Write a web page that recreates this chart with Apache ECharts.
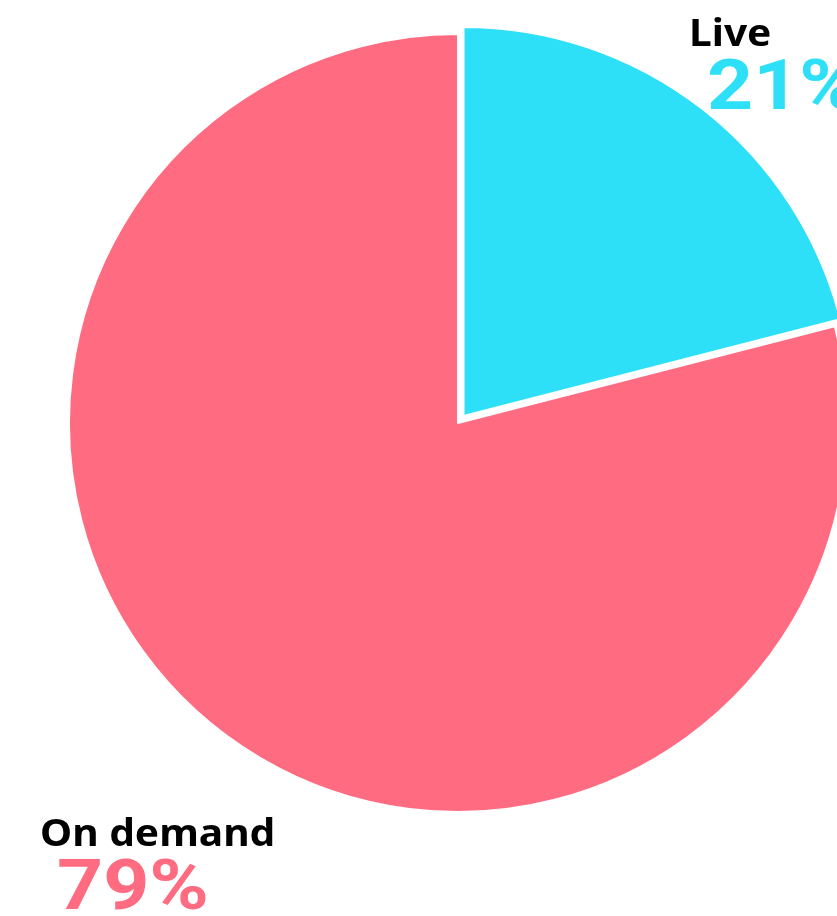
<!DOCTYPE html>
<html>
<head>
<meta charset="utf-8">
<script src="https://cdn.jsdelivr.net/npm/echarts@6/dist/echarts.min.js"></script>
<style>
html,body{margin:0;padding:0;background:#fff;}
#chart{width:837px;height:916px;}
</style>
</head>
<body>
<div id="chart"></div>
<script>
const categories = ['Live', 'On demand'];
const values = [21, 79];
const colors = ['#2DE0F8', '#FF6B81'];

const chart = echarts.init(document.getElementById('chart'));
const data = categories.map((c, i) => ({
  name: c,
  value: values[i],
  selected: i === 0,
  itemStyle: { color: colors[i] }
}));

const labelPos = [
  { name: [689, 50], pct: [707, 114] },
  { name: [40, 850], pct: [57, 914] }
];
const graphics = [];
categories.forEach((c, i) => {
  graphics.push({
    type: 'text', left: labelPos[i].name[0], top: labelPos[i].name[1] - 34,
    scaleX: 1.07,
    style: { text: c, fill: '#000', font: 'bold 38px "Noto Sans"', textVerticalAlign: 'top' }
  });
  graphics.push({
    type: 'text', left: labelPos[i].pct[0], top: labelPos[i].pct[1] - 58,
    scaleX: 1.15,
    style: { text: values[i] + '%', fill: colors[i], font: 'bold 70px Roboto', textVerticalAlign: 'top' }
  });
});

chart.setOption({
  animation: false,
  series: [{
    type: 'pie',
    center: [458, 423],
    radius: [0, 389],
    startAngle: 90,
    clockwise: true,
    selectedMode: 'single',
    selectedOffset: 9,
    label: { show: false },
    labelLine: { show: false },
    emphasis: { disabled: true },
    itemStyle: { borderColor: '#fff', borderWidth: 2 },
    data: data
  }],
  graphic: graphics
});
</script>
</body>
</html>
